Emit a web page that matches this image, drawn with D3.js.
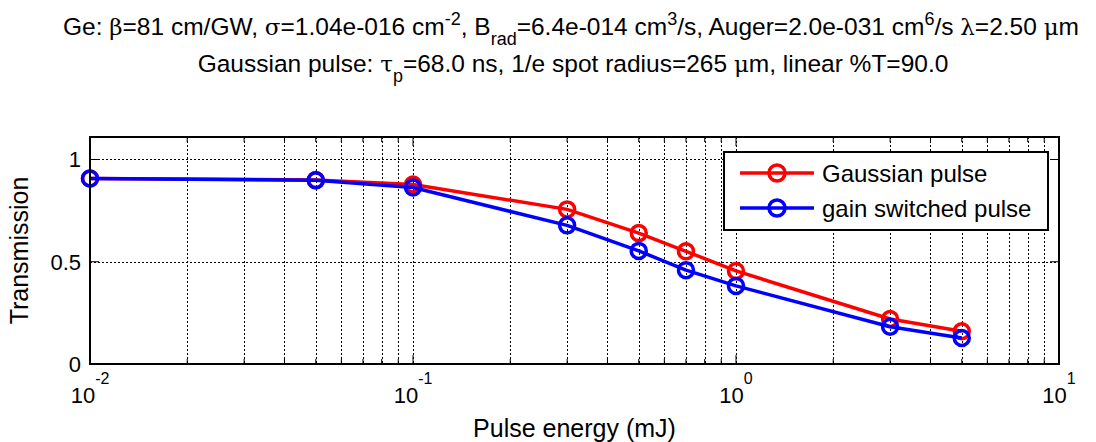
<!DOCTYPE html>
<html>
<head>
<meta charset="utf-8">
<script src="https://cdn.jsdelivr.net/npm/d3@7"></script>
<style>
  body { margin: 0; background: #fff; }
  text { font-family: "Liberation Sans", Arial, sans-serif; fill: #000; }
</style>
</head>
<body>
<svg></svg>
<script>
const [width, height] = [1096, 442];

// data
const energy = [0.01, 0.05, 0.1, 0.3, 0.5, 0.7, 1, 3, 5];
const gaussian = [0.907, 0.900, 0.878, 0.756, 0.640, 0.551, 0.455, 0.220, 0.160];
const gainSwitched = [0.907, 0.898, 0.863, 0.678, 0.553, 0.459, 0.382, 0.182, 0.127];
const seriesNames = ['Gaussian pulse', 'gain switched pulse'];
const seriesColors = ['#ff0000', '#0000ff'];
const yTicks = [0, 0.5, 1];
const xDecades = [0.01, 0.1, 1, 10];
const xDecadeExp = ['-2', '-1', '0', '1'];

const plot = { left: 90, right: 1059, top: 137, bottom: 364 };

const svg = d3.select('svg').attr('width', width).attr('height', height);

const x = d3.scaleLog().domain([0.01, 10]).range([plot.left, plot.right]);
const y = d3.scaleLinear().domain([0, 1.11]).range([plot.bottom, plot.top]);

// minor log ticks 1..9 of each decade
const allTicks = [];
for (let d = 0; d < 3; d++) {
  for (let k = 1; k <= 9; k++) allTicks.push(k * Math.pow(10, d - 2));
}
allTicks.push(10);
const minorTicks = allTicks.filter(t => !xDecades.some(m => Math.abs(m - t) < 1e-9));

// grid
const grid = svg.append('g').attr('stroke', '#000').attr('stroke-width', 1)
  .attr('stroke-dasharray', '2,2');
grid.selectAll('.vg').data(allTicks.slice(1, -1)).join('line')
  .attr('x1', d => Math.round(x(d)) + 0.5).attr('x2', d => Math.round(x(d)) + 0.5)
  .attr('y1', plot.top).attr('y2', plot.bottom);
grid.selectAll('.hg').data(yTicks.slice(1)).join('line')
  .attr('y1', d => Math.round(y(d)) + 0.5).attr('y2', d => Math.round(y(d)) + 0.5)
  .attr('x1', plot.left).attr('x2', plot.right);

// tick marks (inside, all four sides)
const ticks = svg.append('g').attr('stroke', '#000').attr('stroke-width', 1);
[[plot.bottom, -1], [plot.top, 1]].forEach(([yy, dir]) => {
  ticks.selectAll(null).data(xDecades).join('line')
    .attr('x1', d => x(d)).attr('x2', d => x(d))
    .attr('y1', yy).attr('y2', yy + dir * 9);
  ticks.selectAll(null).data(minorTicks).join('line')
    .attr('x1', d => x(d)).attr('x2', d => x(d))
    .attr('y1', yy).attr('y2', yy + dir * 5);
});
[[plot.left, 1], [plot.right, -1]].forEach(([xx, dir]) => {
  ticks.selectAll(null).data(yTicks).join('line')
    .attr('y1', d => y(d)).attr('y2', d => y(d))
    .attr('x1', xx).attr('x2', xx + dir * 9);
});

// series
const series = [gaussian, gainSwitched];
const line = d3.line().x((d, i) => x(energy[i])).y(d => y(d));
series.forEach((vals, s) => {
  const g = svg.append('g');
  g.append('path').datum(vals).attr('d', line)
    .attr('fill', 'none').attr('stroke', seriesColors[s]).attr('stroke-width', 3.5)
    .attr('stroke-linejoin', 'round');
  g.selectAll('circle').data(vals).join('circle')
    .attr('cx', (d, i) => x(energy[i])).attr('cy', d => y(d)).attr('r', 7.5)
    .attr('fill', 'none').attr('stroke', seriesColors[s]).attr('stroke-width', 3.5);
});

// axes box
svg.append('rect')
  .attr('x', plot.left).attr('y', plot.top)
  .attr('width', plot.right - plot.left).attr('height', plot.bottom - plot.top)
  .attr('fill', 'none').attr('stroke', '#000').attr('stroke-width', 2);

// y tick labels
svg.append('g').selectAll('text').data(yTicks).join('text')
  .attr('x', 81).attr('y', d => y(d) + 8)
  .attr('text-anchor', 'end').attr('font-size', 22)
  .text(d => d);

// x tick labels 10^n
const xl = svg.append('g').selectAll('text').data(xDecades).join('text')
  .attr('x', d => x(d)).attr('y', 403)
  .attr('text-anchor', 'middle').attr('font-size', 22);
xl.append('tspan').text('10');
xl.append('tspan').attr('font-size', 16).attr('dy', -19).text((d, i) => xDecadeExp[i]);

// axis labels
svg.append('text').attr('x', (plot.left + plot.right) / 2).attr('y', 437)
  .attr('text-anchor', 'middle').attr('font-size', 25).text('Pulse energy (mJ)');
svg.append('text').attr('transform', `translate(28, ${(plot.top + plot.bottom) / 2}) rotate(-90)`)
  .attr('text-anchor', 'middle').attr('font-size', 25).text('Transmission');

// title
const greek = "'DejaVu Serif', 'Liberation Serif', serif";
const parts1 = [
  ['Ge: '], ['β', 'g'], ['=81 cm/GW, '], ['σ', 'g'], ['=1.04e-016 cm'], ['-2', 'sup'],
  [', B'], ['rad', 'sub'], ['=6.4e-014 cm'], ['3', 'sup'], ['/s, Auger=2.0e-031 cm'],
  ['6', 'sup'], ['/s '], ['λ', 'g'], ['=2.50 '], ['μ', 'g'], ['m']
];
const parts2 = [
  ['Gaussian pulse: '], ['τ', 'g'], ['p', 'sub'], ['=68.0 ns, 1/e spot radius=265 '],
  ['μ', 'g'], ['m, linear %T=90.0']
];
function addParts(t, parts) {
  let shift = 0;
  parts.forEach(([s, k]) => {
    const sp = t.append('tspan').text(s);
    let target = 0;
    if (k === 'g') sp.attr('font-family', greek).attr('font-size', 23);
    if (k === 'sup') { sp.attr('font-size', 18); target = -10; }
    if (k === 'sub') { sp.attr('font-size', 18); target = 10; }
    if (target !== shift) { sp.attr('dy', target - shift); shift = target; }
  });
}
const t1 = svg.append('text').attr('x', 571).attr('y', 35)
  .attr('text-anchor', 'middle').attr('font-size', 24.5);
addParts(t1, parts1);
const t2 = svg.append('text').attr('x', 573).attr('y', 72)
  .attr('text-anchor', 'middle').attr('font-size', 24.5);
addParts(t2, parts2);

// legend
const lg = svg.append('g');
lg.append('rect').attr('x', 724).attr('y', 152).attr('width', 324).attr('height', 78)
  .attr('fill', '#fff').attr('stroke', '#000').attr('stroke-width', 2);
seriesNames.forEach((name, s) => {
  const yy = 173 + s * 35;
  lg.append('line').attr('x1', 740).attr('x2', 814).attr('y1', yy).attr('y2', yy)
    .attr('stroke', seriesColors[s]).attr('stroke-width', 3.5);
  lg.append('circle').attr('cx', 777).attr('cy', yy).attr('r', 8)
    .attr('fill', 'none').attr('stroke', seriesColors[s]).attr('stroke-width', 3.5);
  lg.append('text').attr('x', 822).attr('y', yy + 9).attr('font-size', 24).text(name);
});
</script>
</body>
</html>
